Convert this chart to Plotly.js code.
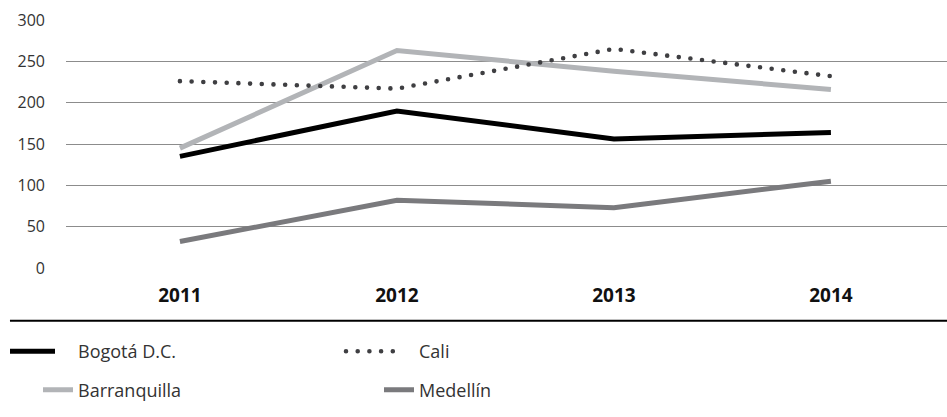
<!DOCTYPE html>
<html><head><meta charset="utf-8">
<script src="https://cdn.plot.ly/plotly-3.0.1.min.js"></script>
<style>body{margin:0;background:#fff}#c{width:947px;height:417px}</style>
</head><body><div id="c"></div>
<script>
const years = ['2011','2012','2013','2014'];
const bogota = [135, 190, 156, 164];
const cali = [226, 217, 265, 232];
const barranquilla = [145, 263, 238, 216];
const medellin = [32, 82, 73, 105];
const yTicks = [0, 50, 100, 150, 200, 250, 300];

const F = '"Open Sans", Lato, sans-serif';
const traces = [
  {x: years, y: barranquilla, name: 'Barranquilla', mode: 'lines', legend: 'legend2',
   line: {color: '#b2b4b7', width: 5}},
  {x: years, y: medellin, name: 'Medellín', mode: 'lines', legend: 'legend2',
   line: {color: '#7a7a7d', width: 5}},
  {x: years, y: bogota, name: 'Bogotá D.C.', mode: 'lines', legend: 'legend',
   line: {color: '#000000', width: 5}},
  {x: years, y: cali, name: 'Cali', mode: 'lines', legend: 'legend',
   line: {color: '#3f3f42', width: 4.6, dash: '0px,11.7px'}}
];
const legendBase = {
  orientation: 'h', xref: 'container', yref: 'container', x: 38 / 947, xanchor: 'left',
  yanchor: 'middle', entrywidth: 296, entrywidthmode: 'pixels', traceorder: 'normal',
  font: {family: F, size: 18, color: '#333'}, bgcolor: 'rgba(0,0,0,0)'
};
const layout = {
  width: 947, height: 417,
  margin: {l: 66, r: 0, t: 20, b: 149},
  paper_bgcolor: '#fff', plot_bgcolor: '#fff',
  font: {family: F, color: '#333'},
  showlegend: true,
  xaxis: {type: 'category', range: [-0.525, 3.535], showgrid: false, zeroline: false,
    showline: false, ticks: '', ticklabelstandoff: 14,
    tickfont: {family: F, size: 19, color: '#111', weight: 'bold'}},
  yaxis: {range: [0, 300], tickvals: yTicks, ticktext: yTicks.map(String),
    showgrid: true, gridcolor: '#8c8c8c', gridwidth: 1, zeroline: false, showline: false,
    ticks: '', ticklabelstandoff: 20, tickfont: {family: F, size: 16, color: '#333'}},
  legend: Object.assign({}, legendBase, {y: 0.157}),
  legend2: Object.assign({}, legendBase, {y: 0.0647}),
  shapes: [{type: 'line', xref: 'paper', yref: 'paper', x0: -0.0636, x1: 1, y0: -0.213, y1: -0.213,
    line: {color: '#000', width: 2}}]
};
// legend symbol spans [start, length], relative to the text start (text sits at item x + 40)
const symSpan = {'Bogotá D.C.': [-68, 45], 'Barranquilla': [-68, 45], 'Cali': [-73, 58], 'Medellín': [-70, 54]};
const gd = document.getElementById('c');
function tweak() {
  gd.querySelectorAll('path.js-line').forEach(p => {
    const d = p.style.strokeDasharray || '';
    if (/^0(px)?[ ,]/.test(d) && p.style.strokeLinecap !== 'round') p.style.strokeLinecap = 'round';
  });
  gd.querySelectorAll('text.legendtext').forEach(txt => {
    const s = symSpan[txt.textContent];
    const item = txt.closest('.traces') || txt.parentNode;
    let el = txt.parentNode;
    while (el && el !== gd) {
      if (el.hasAttribute && el.hasAttribute('clip-path')) el.removeAttribute('clip-path');
      el = el.parentNode;
    }
    item.querySelectorAll('path.js-line').forEach(ln => {
      if (!s) return;
      const nd = 'M' + (40 + s[0]) + ',0h' + s[1];
      if (ln.getAttribute('d') !== nd) ln.setAttribute('d', nd);
    });
  });
}
const obs = new MutationObserver(tweak);
obs.observe(gd, {childList: true, subtree: true, attributes: true, attributeFilter: ['d', 'clip-path', 'transform']});
Plotly.newPlot(gd, traces, layout, {displayModeBar: false, staticPlot: true}).then(() => {
  tweak();
  gd.on('plotly_afterplot', tweak);
});
</script></body></html>
